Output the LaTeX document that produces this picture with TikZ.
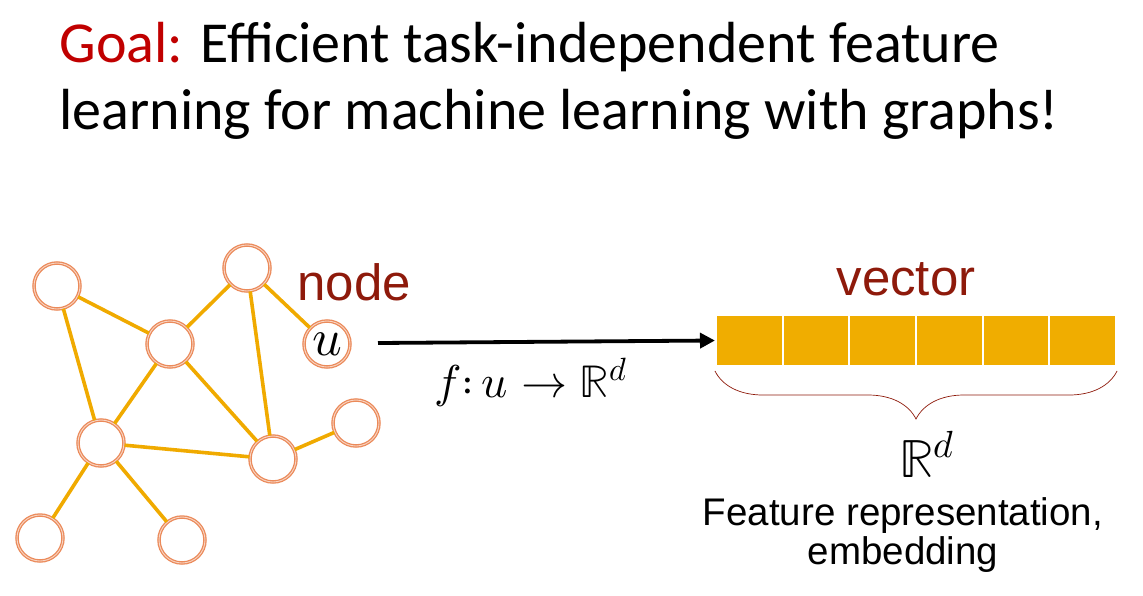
\documentclass[tikz,border=0pt]{standalone}
\usepackage{fontspec}
\usepackage{unicode-math}
\setmainfont{Liberation Sans}
\setmathfont{Latin Modern Math}
\newfontfamily\titlefont{Carlito}
\usepackage{tikz}
\usetikzlibrary{positioning, arrows.meta, decorations.pathreplacing}
\definecolor{goalred}{HTML}{C00000}
\definecolor{wordred}{HTML}{8E1A0B}
\definecolor{ringorange}{HTML}{EB8A5A}
\definecolor{edgegold}{HTML}{F0AA00}
\definecolor{cellgold}{HTML}{F0AD00}
\tikzstyle{graph_node}=[circle, draw=ringorange, line width=1.3pt, double=ringorange!35, double distance=0.9pt, fill=white, minimum size=46pt, inner sep=0pt]
\tikzstyle{edge_line}=[edgegold, line width=3.6pt]
\tikzstyle{vec_cell}=[rectangle, fill=cellgold, draw=white, line width=2pt, minimum width=66.67pt, minimum height=51pt, inner sep=0pt]
\tikzstyle{map_arrow}=[line width=3.8pt, -{Triangle[length=15pt, width=15pt]}]

\begin{document}
\begin{tikzpicture}[x=1pt, y=-1pt]
    \useasboundingbox (0,0) rectangle (1143,595);

    \node[anchor=base west, font=\titlefont\fontsize{58}{67}\selectfont] at (56, 62) (title1) {\textcolor{goalred}{Goal:} Efficient task-independent feature};
    \node[anchor=base west, font=\titlefont\fontsize{58}{67}\selectfont] at (56, 129) (title2) {learning for machine learning with graphs!};

    \node[graph_node] at ( 57, 286) (n1) {};
    \node[graph_node] at (247, 268) (n2) {};
    \node[graph_node] at (170, 344) (n3) {};
    \node[graph_node] at (327, 344) (u) {\fontsize{52}{58}\selectfont$u$};
    \node[graph_node] at (101, 443) (n4) {};
    \node[graph_node] at (273, 459) (n5) {};
    \node[graph_node] at (356, 423) (n6) {};
    \node[graph_node] at ( 40, 538) (n7) {};
    \node[graph_node] at (182, 540) (n8) {};

    \draw[edge_line] (n1) -- (n3);
    \draw[edge_line] (n1) -- (n4);
    \draw[edge_line] (n3) -- (n2);
    \draw[edge_line] (n2) -- (u);
    \draw[edge_line] (n2) -- (n5);
    \draw[edge_line] (n3) -- (n4);
    \draw[edge_line] (n3) -- (n5);
    \draw[edge_line] (n4) -- (n5);
    \draw[edge_line] (n5) -- (n6);
    \draw[edge_line] (n4) -- (n7);
    \draw[edge_line] (n4) -- (n8);

    \node[anchor=base west, text=wordred, font=\fontsize{51}{60}\selectfont] at (294, 300) (nodelbl) {node};

    % embedding vector
    \node[vec_cell] at ( 749.3, 340.5) (v1) {};
    \node[vec_cell] at ( 816.0, 340.5) (v2) {};
    \node[vec_cell] at ( 882.7, 340.5) (v3) {};
    \node[vec_cell] at ( 949.3, 340.5) (v4) {};
    \node[vec_cell] at (1016.0, 340.5) (v5) {};
    \node[vec_cell] at (1082.7, 340.5) (v6) {};

    \node[anchor=base, text=wordred, font=\fontsize{51}{60}\selectfont] at (906, 295) (veclbl) {vector};

    \coordinate (fstart) at (378, 343);
    \draw[map_arrow] (fstart) -- (v1.west);
    \node[anchor=base, font=\fontsize{46}{52}\selectfont] at (531, 397) (flbl) {$f{:}\,u\to\mathbb{R}^{d}$};

    \draw[wordred, line width=0.7pt, decorate, decoration={brace, mirror, amplitude=48pt, raise=4pt}] (v1.south west) -- (v6.south east);

    \node[anchor=base, font=\fontsize{54}{60}\selectfont] at (927, 477) (rdlbl) {$\mathbb{R}^{d}$};
    \node[anchor=base, font=\fontsize{38.5}{46}\selectfont] at (903, 525) (featlbl) {Feature representation,};
    \node[anchor=base, font=\fontsize{38.5}{46}\selectfont] at (903, 564) (emblbl) {embedding};
\end{tikzpicture}
\end{document}
